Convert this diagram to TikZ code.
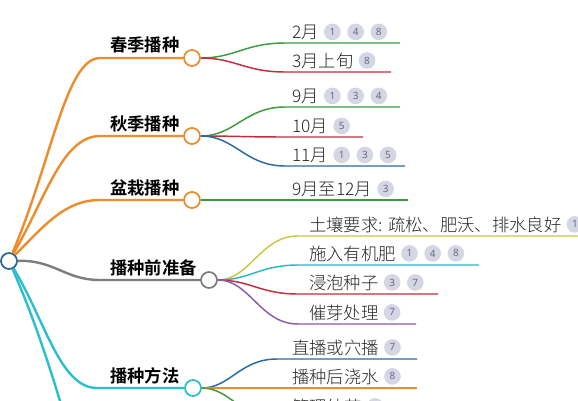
\documentclass[tikz,border=0pt]{standalone}
\usepackage{fontspec}
\setmainfont{Noto Sans CJK SC}[BoldFont={Noto Sans CJK SC Bold}]
\newfontfamily\leaffont{Noto Sans CJK SC Light}
\newfontfamily\badgefont{Noto Sans}
\usetikzlibrary{positioning}
\definecolor{mmorange}{RGB}{238,140,45}
\definecolor{mmgreen}{RGB}{60,155,60}
\definecolor{mmred}{RGB}{195,45,60}
\definecolor{mmblue}{RGB}{40,105,165}
\definecolor{mmgray}{RGB}{125,125,125}
\definecolor{mmolive}{RGB}{200,200,70}
\definecolor{mmcyan}{RGB}{40,185,200}
\definecolor{mmpurple}{RGB}{140,90,175}
\definecolor{mmteal}{RGB}{45,190,205}
\definecolor{rootblue}{RGB}{45,100,150}
\definecolor{badgebg}{RGB}{212,214,228}
\definecolor{badgefg}{RGB}{105,105,125}

\begin{document}
\begin{tikzpicture}[
  x=0.75pt, y=-0.75pt,
  every node/.style={inner sep=0pt},
  hub/.style={circle, draw=#1, fill=white, line width=1.3pt, minimum size=12pt},
  topic/.style={anchor=base west, font=\fontsize{13}{13}\selectfont\bfseries},
  leaf/.style={anchor=base west, text=black!85, font=\leaffont\fontsize{13}{13}\selectfont},
  badge/.style={circle, fill=badgebg, text=badgefg, minimum size=12.5pt,
    font=\badgefont\fontsize{7.5}{7.5}\selectfont},
  bough/.style={draw=#1, line width=1.8pt},
  twig/.style={draw=#1, line width=1.1pt}
]
  \useasboundingbox (0,0) rectangle (578,400);

  % root and main branches
  \node[hub=rootblue] (root) at (9,261) {};
  \coordinate (parent) at (-6,261);
  \coordinate (below) at (80,470);
  \draw[bough=rootblue] (parent) -- (root);

  \node[hub=mmorange] (spring) at (192,58) {};
  \node[hub=mmorange] (autumn) at (192,136) {};
  \node[hub=mmorange] (pot) at (192,200) {};
  \node[hub=mmgray] (prep) at (209,280) {};
  \node[hub=mmteal] (method) at (193,388) {};

  \node[topic] (springlbl) at (110,51) {春季播种};
  \node[topic] (autumnlbl) at (110,130) {秋季播种};
  \node[topic] (potlbl) at (110,194) {盆栽播种};
  \node[topic] (preplbl) at (110,274) {播种前准备};
  \node[topic] (methodlbl) at (110,382) {播种方法};

  \draw[bough=mmorange] (root) .. controls (52,160) and (66,58) .. (100,58) -- (spring);
  \draw[bough=mmorange] (root) .. controls (45,200) and (62,136) .. (100,136) -- (autumn);
  \draw[bough=mmorange] (root) .. controls (45,225) and (65,200) .. (100,200) -- (pot);
  \draw[bough=mmgray] (root) .. controls (55,260) and (65,280) .. (100,280) -- (prep);
  \draw[bough=mmteal] (root) .. controls (45,320) and (60,388) .. (97,388) -- (method);
  \draw[bough=mmteal] (root) .. controls (35,320) and (55,380) .. (below);

  % leaves
  \node[leaf] (feb) at (292,38) {2月};
  \node[badge, right=3.5pt of feb] (feb1) {1};
  \node[badge, right=4.5pt of feb1] (feb2) {4};
  \node[badge, right=4.5pt of feb2] (feb3) {8};
  \node[leaf] (mar) at (292,67) {3月上旬};
  \node[badge, right=3.5pt of mar] (mar1) {8};
  \node[leaf] (sep) at (292,102) {9月};
  \node[badge, right=3.5pt of sep] (sep1) {1};
  \node[badge, right=4.5pt of sep1] (sep2) {3};
  \node[badge, right=4.5pt of sep2] (sep3) {4};
  \node[leaf] (oct) at (292,132) {10月};
  \node[badge, right=3.5pt of oct] (oct1) {5};
  \node[leaf] (nov) at (292,161) {11月};
  \node[badge, right=3.5pt of nov] (nov1) {1};
  \node[badge, right=4.5pt of nov1] (nov2) {3};
  \node[badge, right=4.5pt of nov2] (nov3) {5};
  \node[leaf] (potm) at (292,195) {9月至12月};
  \node[badge, right=3.5pt of potm] (potm1) {3};

  \node[leaf] (soil) at (309,231) {土壤要求: 疏松、肥沃、排水良好};
  \node[badge, right=3.5pt of soil] (soil1) {1};
  \node[leaf] (manure) at (309,260) {施入有机肥};
  \node[badge, right=3.5pt of manure] (manure1) {1};
  \node[badge, right=4.5pt of manure1] (manure2) {4};
  \node[badge, right=4.5pt of manure2] (manure3) {8};
  \node[leaf] (soak) at (309,289) {浸泡种子};
  \node[badge, right=3.5pt of soak] (soak1) {3};
  \node[badge, right=4.5pt of soak1] (soak2) {7};
  \node[leaf] (sprout) at (309,319) {催芽处理};
  \node[badge, right=3.5pt of sprout] (sprout1) {7};

  \node[leaf] (sow) at (292,354) {直播或穴播};
  \node[badge, right=3.5pt of sow] (sow1) {7};
  \node[leaf] (water) at (292,383) {播种后浇水};
  \node[badge, right=3.5pt of water] (water1) {8};
  \node[leaf] (care) at (292,413) {管理幼苗};
  \node[badge, right=3.5pt of care] (care1) {7};

  % underline ends
  \foreach \n/\x/\y in {feb/400/43, mar/391/72, sep/400/107, oct/363/137,
      nov/405/166, potm/408/200, soil/590/236, manure/479/265, soak/438/294,
      sprout/416/324, sow/417/359, water/417/388, care/417/418}
    \coordinate (\n-e) at (\x,\y);

  \draw[twig=mmgreen] (spring) .. controls (235,58) and (245,43) .. (285,43) -- (feb-e);
  \draw[twig=mmred] (spring) .. controls (235,58) and (245,72) .. (285,72) -- (mar-e);
  \draw[twig=mmgreen] (autumn) .. controls (235,136) and (245,107) .. (285,107) -- (sep-e);
  \draw[twig=mmred] (autumn) .. controls (235,136) and (245,137) .. (285,137) -- (oct-e);
  \draw[twig=mmblue] (autumn) .. controls (235,136) and (245,166) .. (285,166) -- (nov-e);
  \draw[twig=mmgreen] (pot) -- (potm-e);
  \draw[twig=mmolive] (prep) .. controls (250,280) and (260,236) .. (298,236) -- (soil-e);
  \draw[twig=mmcyan] (prep) .. controls (250,280) and (260,265) .. (298,265) -- (manure-e);
  \draw[twig=mmred] (prep) .. controls (250,280) and (260,294) .. (298,294) -- (soak-e);
  \draw[twig=mmpurple] (prep) .. controls (250,280) and (260,324) .. (298,324) -- (sprout-e);
  \draw[twig=mmblue] (method) .. controls (230,388) and (240,359) .. (277,359) -- (sow-e);
  \draw[twig=mmorange] (method) -- (water-e);
  \draw[twig=mmgreen] (method) .. controls (230,388) and (240,418) .. (277,418) -- (care-e);
\end{tikzpicture}
\end{document}
